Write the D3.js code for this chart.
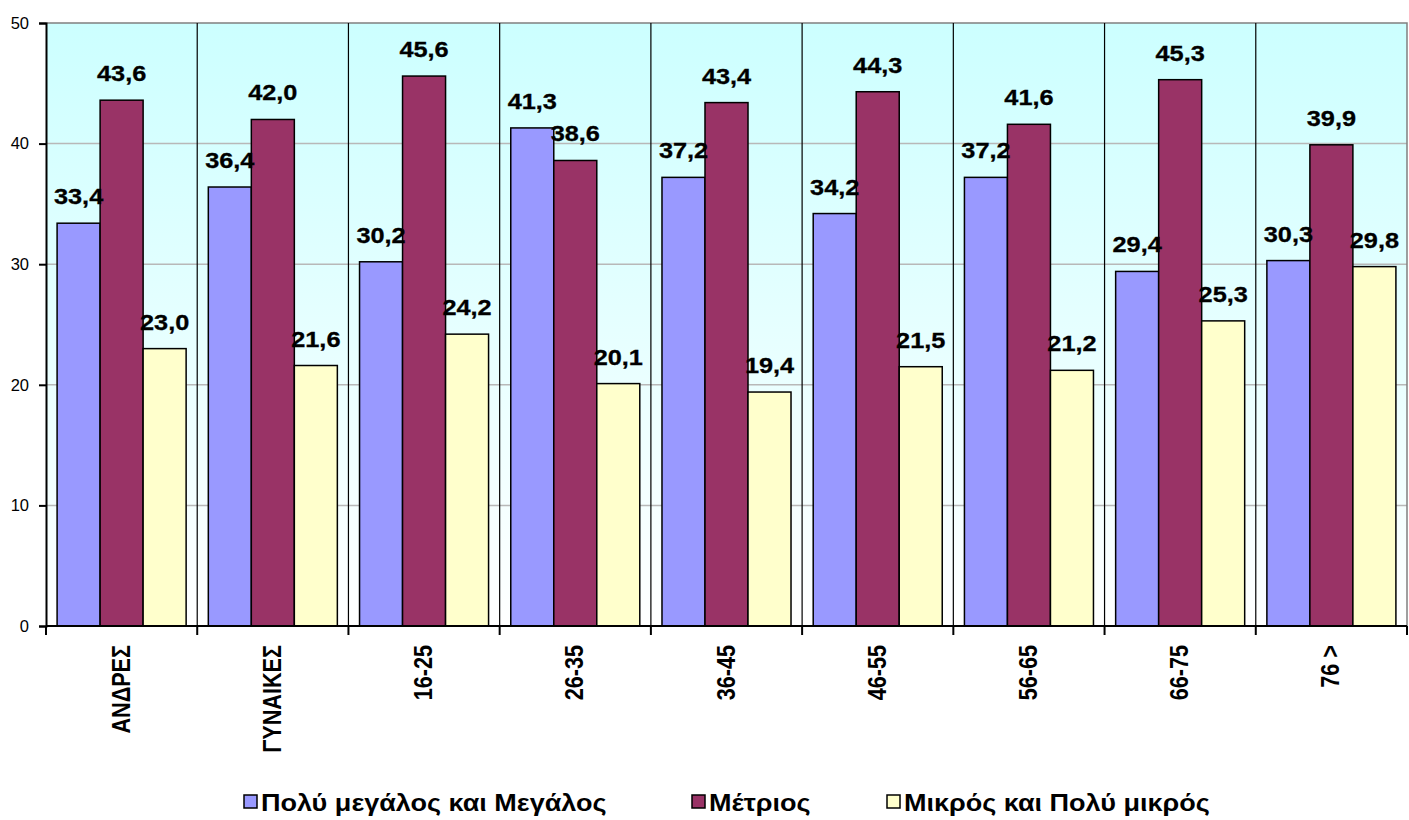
<!DOCTYPE html>
<html>
<head>
<meta charset="utf-8">
<script src="https://cdn.jsdelivr.net/npm/d3@7"></script>
<style>
  html, body { margin: 0; padding: 0; background: #fff; }
  svg { display: block; font-family: Arial, "Liberation Sans", sans-serif; }
</style>
</head>
<body>
<svg id="chart" width="1409" height="820"></svg>
<script>
const categories = ["ΑΝΔΡΕΣ", "ΓΥΝΑΙΚΕΣ", "16-25", "26-35", "36-45", "46-55", "56-65", "66-75", "76 >"];
const seriesNames = ["Πολύ μεγάλος και Μεγάλος", "Μέτριος", "Μικρός και Πολύ μικρός"];
const seriesColors = ["#9999FF", "#993366", "#FFFFCC"];
const valuesLarge = [33.4, 36.4, 30.2, 41.3, 37.2, 34.2, 37.2, 29.4, 30.3];
const valuesMedium = [43.6, 42.0, 45.6, 38.6, 43.4, 44.3, 41.6, 45.3, 39.9];
const valuesSmall = [23.0, 21.6, 24.2, 20.1, 19.4, 21.5, 21.2, 25.3, 29.8];
const yTicks = [0, 10, 20, 30, 40, 50];

const seriesValues = [valuesLarge, valuesMedium, valuesSmall];
const data = categories.map((c, i) => ({
  cat: c,
  vals: seriesNames.map((s, j) => ({ s, j, v: seriesValues[j][i] }))
}));

const svg = d3.select("#chart");
const plot = { left: 46, right: 1407, top: 23, bottom: 626 };

const x0 = d3.scaleBand().domain(categories).range([plot.left, plot.right]).padding(0);
const x1 = d3.scaleBand().domain(seriesNames).range([0, x0.bandwidth()]).paddingInner(0).paddingOuter(0.258);
const y = d3.scaleLinear().domain([0, 50]).range([plot.bottom, plot.top]);

// background gradient
const defs = svg.append("defs");
const grad = defs.append("linearGradient").attr("id", "bg").attr("x1", 0).attr("y1", 0).attr("x2", 0).attr("y2", 1);
grad.append("stop").attr("offset", "0%").attr("stop-color", "#CCFFFF");
grad.append("stop").attr("offset", "100%").attr("stop-color", "#FFFFFF");

svg.append("rect")
  .attr("x", plot.left).attr("y", plot.top)
  .attr("width", plot.right - plot.left).attr("height", plot.bottom - plot.top)
  .attr("fill", "url(#bg)");

// horizontal grid
svg.append("g").selectAll("line").data(yTicks.filter(t => t > 0 && t < 50)).join("line")
  .attr("x1", plot.left).attr("x2", plot.right)
  .attr("y1", d => y(d)).attr("y2", d => y(d))
  .attr("stroke", "#B8B8B8").attr("stroke-width", 1.5);

// top and right border
svg.append("path")
  .attr("d", `M${plot.left},${y(50)}H${plot.right}V${plot.bottom}`)
  .attr("fill", "none").attr("stroke", "#808080").attr("stroke-width", 1.5);

// vertical separators
svg.append("g").selectAll("line").data(categories.slice(1)).join("line")
  .attr("x1", d => x0(d)).attr("x2", d => x0(d))
  .attr("y1", plot.top).attr("y2", plot.bottom)
  .attr("stroke", "#000").attr("stroke-width", 1.2);

// bars
const groups = svg.append("g").selectAll("g").data(data).join("g")
  .attr("transform", d => `translate(${x0(d.cat)},0)`);

groups.selectAll("rect").data(d => d.vals).join("rect")
  .attr("x", d => x1(d.s))
  .attr("y", d => y(d.v))
  .attr("width", x1.bandwidth())
  .attr("height", d => y(0) - y(d.v))
  .attr("fill", d => seriesColors[d.j])
  .attr("stroke", "#000").attr("stroke-width", 1.5);

// value labels
const fmt = v => v.toFixed(1).replace(".", ",");
groups.selectAll("text").data(d => d.vals).join("text")
  .attr("transform", d => `translate(${x1(d.s) + x1.bandwidth() / 2},${y(d.v) - 19}) scale(1.15,1.03)`)
  .attr("text-anchor", "middle")
  .attr("font-size", 22).attr("font-weight", "bold").attr("fill", "#000")
  .attr("stroke", "#000").attr("stroke-width", 0.3)
  .text(d => fmt(d.v));

// y axis
const yAxis = d3.axisLeft(y).tickValues(yTicks).tickSize(7).tickPadding(10).tickFormat(d3.format("d"));
const gy = svg.append("g").attr("transform", `translate(${plot.left},0)`).call(yAxis);
gy.select(".domain").attr("stroke", "#000").attr("stroke-width", 2);
gy.selectAll(".tick line").attr("stroke", "#000").attr("stroke-width", 2);
gy.selectAll(".tick text").attr("font-size", 16.5).attr("fill", "#000").attr("font-family", "Arial, 'Liberation Sans', sans-serif");

// x axis line and boundary ticks
svg.append("line")
  .attr("x1", plot.left).attr("x2", plot.right)
  .attr("y1", plot.bottom).attr("y2", plot.bottom)
  .attr("stroke", "#000").attr("stroke-width", 2);
const boundaries = categories.map(c => x0(c)).concat([x0(categories[categories.length - 1]) + x0.bandwidth()]);
svg.append("g").selectAll("line").data(boundaries).join("line")
  .attr("x1", d => d).attr("x2", d => d)
  .attr("y1", plot.bottom).attr("y2", plot.bottom + 9)
  .attr("stroke", "#000").attr("stroke-width", 2);

// category labels (rotated)
svg.append("g").selectAll("text").data(categories).join("text")
  .attr("transform", d => `translate(${x0(d) + x0.bandwidth() / 2 + 8},${plot.bottom + 19}) rotate(-90) scale(1.03,1.2)`)
  .attr("text-anchor", "end")
  .attr("font-size", 21).attr("font-weight", "bold").attr("fill", "#000")
  .text(d => d);

// legend
const legendPos = [244, 692, 887];
const lg = svg.append("g").selectAll("g").data(seriesNames).join("g")
  .attr("transform", (d, i) => `translate(${legendPos[i]},795)`);
lg.append("rect").attr("x", 0).attr("y", 0).attr("width", 13).attr("height", 13)
  .attr("fill", (d, i) => seriesColors[i]).attr("stroke", "#000").attr("stroke-width", 1.5);
lg.append("text")
  .attr("transform", "translate(17,16) scale(1.15,1)")
  .attr("font-size", 23.5).attr("font-weight", "bold").attr("fill", "#000")
  .text(d => d);
</script>
</body>
</html>
